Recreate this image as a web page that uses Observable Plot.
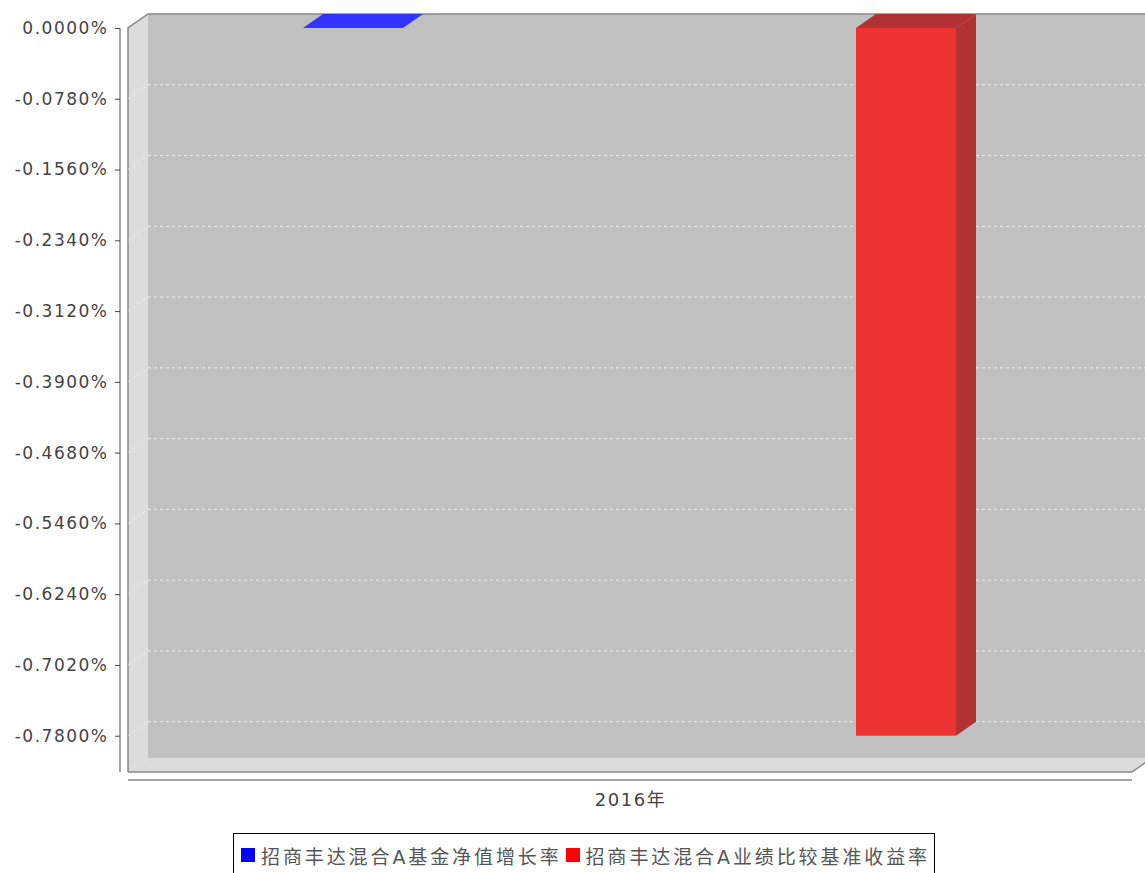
<!DOCTYPE html>
<html><head><meta charset="utf-8">
<script src="https://cdn.jsdelivr.net/npm/d3@7"></script>
<script src="https://cdn.jsdelivr.net/npm/@observablehq/plot@0.6"></script>
<style>
body{margin:0;background:#fff;font-family:"DejaVu Sans","Noto Sans CJK SC",sans-serif;}
#legend{position:absolute;left:233px;top:833px;width:702px;height:44px;border:1px solid #000;box-sizing:border-box;display:flex;align-items:center;padding-left:3px;font-size:19px;letter-spacing:2.9px;color:#555;font-family:"DejaVu Sans","Noto Sans CJK SC",sans-serif;white-space:nowrap;overflow:hidden;}
.sw{display:inline-block;width:14px;height:14px;margin:0 6px 0 4px;}
</style></head><body>
<div id="chart"></div>
<div id="legend"></div>
<script>
const series = ["招商丰达混合A基金净值增长率","招商丰达混合A业绩比较基准收益率"];
const values = [0.0, -0.78];
const colors = ["#3333ff","#ee3333"];
const sideColors = ["#2828c8","#b03232"];
const legendColors = ["#0000ff","#ff0000"];
const category = "2016年";
const yTicks = [0,-0.078,-0.156,-0.234,-0.312,-0.39,-0.468,-0.546,-0.624,-0.702,-0.78];
const data = series.map((s,i)=>({series:s,value:values[i],color:colors[i],side:sideColors[i]}));
const DX=20, DY=14;

function backdrop(index, scales, vals, dim) {
  const g = d3.create("svg:g");
  const L=dim.marginLeft, R=dim.width-dim.marginRight, T=dim.marginTop, B=dim.height-dim.marginBottom;
  g.append("polygon").attr("points",`${L+DX},${T-DY} ${R+DX},${T-DY} ${R+DX},${B-DY} ${L+DX},${B-DY}`).attr("fill","#c0c0c0");
  g.append("polygon").attr("points",`${L},${T} ${L+DX},${T-DY} ${L+DX},${B-DY} ${L},${B}`).attr("fill","#dcdcdc");
  g.append("polygon").attr("points",`${L},${B} ${L+DX},${B-DY} ${R+DX},${B-DY} ${R},${B}`).attr("fill","#dcdcdc");
  g.append("polyline").attr("points",`${L},${B} ${L},${T} ${L+DX},${T-DY} ${R+DX},${T-DY}`).attr("fill","none").attr("stroke","#888").attr("stroke-width",1.5);
  g.append("polyline").attr("points",`${L},${B} ${R},${B} ${R+DX},${B-DY}`).attr("fill","none").attr("stroke","#888").attr("stroke-width",1.5);
  for (const t of yTicks) {
    if (t===0) continue;
    const y = scales.y(t);
    g.append("line").attr("x1",L+DX).attr("x2",R+DX).attr("y1",y-DY).attr("y2",y-DY).attr("stroke","#fff").attr("stroke-opacity",0.8).attr("stroke-dasharray","3,3");
    g.append("line").attr("x1",L).attr("x2",L+DX).attr("y1",y).attr("y2",y-DY).attr("stroke","#fff").attr("stroke-opacity",0.5).attr("stroke-dasharray","3,3");
  }
  g.append("line").attr("x1",L-8).attr("x2",L-8).attr("y1",T).attr("y2",B).attr("stroke","#888").attr("stroke-width",1.5);
  g.append("line").attr("x1",L).attr("x2",R).attr("y1",B+8).attr("y2",B+8).attr("stroke","#888").attr("stroke-width",1.5);
  return g.node();
}
function bars3d(index, scales, vals, dim) {
  const g = d3.create("svg:g");
  const bw = scales.x.bandwidth();
  for (const i of index) {
    const d = data[i];
    const x0 = scales.x(d.series), x1 = x0+bw;
    const yt = scales.y(0), yb = scales.y(d.value);
    if (yb-yt > 0.5) {
      g.append("polygon").attr("points",`${x1},${yt} ${x1+DX},${yt-DY} ${x1+DX},${yb-DY} ${x1},${yb}`).attr("fill",d.side);
      g.append("rect").attr("x",x0).attr("y",yt).attr("width",bw).attr("height",yb-yt).attr("fill",d.color);
      g.append("polygon").attr("points",`${x0},${yt} ${x0+DX},${yt-DY} ${x1+DX},${yt-DY} ${x1},${yt}`).attr("fill",d.side);
    } else {
      g.append("polygon").attr("points",`${x0},${yt} ${x0+DX},${yt-DY} ${x1+DX},${yt-DY} ${x1},${yt}`).attr("fill",d.color);
    }
  }
  return g.node();
}
const chart = Plot.plot({
  width:1145, height:820,
  marginLeft:128, marginRight:13, marginTop:28, marginBottom:48,
  style:{fontFamily:"DejaVu Sans, sans-serif", fontSize:"17px", color:"#444", overflow:"visible", letterSpacing:"1.5px"},
  x:{type:"band", domain:series, paddingInner:0.8185, paddingOuter:0.316, axis:null},
  y:{domain:[-0.82,0]},
  marks:[
    backdrop,
    Plot.axisY({ticks:yTicks, tickFormat:d=>(d===0?"0.0000":"-"+Math.abs(d).toFixed(4))+"%", dx:-8, tickSize:5, tickPadding:7, label:null, fontSize:17, fill:"#444"}),
    Plot.text([category],{text:d=>d, frameAnchor:"bottom", dy:33, fontSize:18, fill:"#444", fontFamily:"DejaVu Sans, Noto Sans CJK SC"}),
    Plot.barY(data,{x:"series", y:"value", fill:"color", render:bars3d})
  ]
});
document.getElementById("chart").appendChild(chart);
document.getElementById("legend").innerHTML = series.map((s,i)=>`<span class="sw" style="background:${legendColors[i]}"></span><span>${s}</span>`).join("");
</script></body></html>
